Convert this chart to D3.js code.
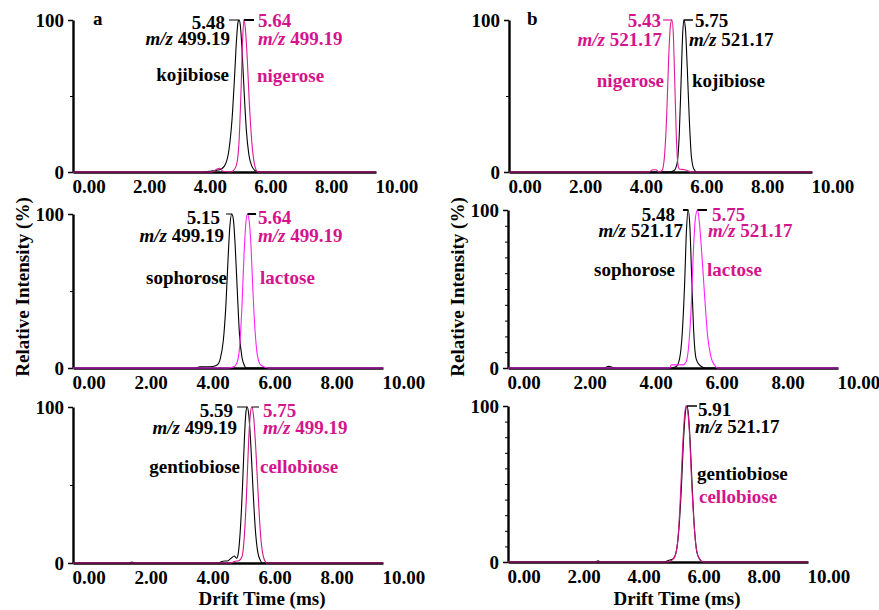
<!DOCTYPE html>
<html>
<head>
<meta charset="utf-8">
<script src="https://cdn.jsdelivr.net/npm/d3@7"></script>
<style>
  body { margin: 0; background: #fff; }
  svg text { font-family: "Liberation Serif", "Times New Roman", Times, serif; font-weight: bold; }
</style>
</head>
<body>
<div id="chart"></div>
<script>
// drift time ticks (ms) and intensity ticks (%)
var xTicks = [0, 2, 4, 6, 8, 10];
var yTicks = [0, 100];

// traces: [drift time (ms), relative intensity (%)]
var kojibiose499 = [[0,0],[4.3,0],[4.5,0.5],[4.7,1],[4.9,2],[5.05,6],[5.15,15],[5.25,35],[5.33,62],[5.4,88],[5.45,99],[5.48,100],[5.52,97],[5.58,80],[5.65,52],[5.72,28],[5.8,12],[5.9,4],[6.0,1],[6.1,0],[10,0]];
var nigerose499 = [[0,0],[4.6,0],[4.75,2],[4.85,2.5],[4.95,0.5],[5.2,0],[5.3,1],[5.4,5],[5.48,20],[5.54,50],[5.6,88],[5.64,100],[5.68,96],[5.75,75],[5.82,45],[5.9,20],[5.98,6],[6.05,1],[6.1,0],[10,0]];

var nigerose521 = [[0,0],[4.6,0],[4.75,1.5],[4.85,1.5],[4.95,0],[5.05,1],[5.12,8],[5.2,35],[5.27,75],[5.33,97],[5.38,100],[5.42,92],[5.47,60],[5.52,25],[5.57,6],[5.62,2],[5.8,1.5],[5.95,0.5],[6.0,0],[10,0]];
var kojibiose521 = [[0,0],[5.3,0],[5.45,1],[5.55,6],[5.62,25],[5.68,60],[5.73,90],[5.77,100],[5.82,95],[5.88,70],[5.95,35],[6.02,10],[6.1,2],[6.2,0],[10,0]];

var sophorose499 = [[0,0],[3.9,0],[4.1,0.7],[4.5,1],[4.65,2],[4.75,6],[4.85,18],[4.93,40],[5.0,70],[5.06,92],[5.12,100],[5.17,97],[5.23,80],[5.3,50],[5.37,22],[5.45,7],[5.52,2],[5.6,0],[10,0]];
var lactose499 = [[0,0],[5.0,0],[5.2,1],[5.3,4],[5.38,15],[5.45,40],[5.52,75],[5.58,95],[5.63,100],[5.68,96],[5.74,80],[5.8,52],[5.87,25],[5.95,8],[6.05,2],[6.2,0.5],[6.3,0],[10,0]];

var sophorose521 = [[0,0],[2.9,0],[3.05,1],[3.15,0.5],[3.3,0],[4.9,0],[5.1,1],[5.2,6],[5.28,22],[5.35,52],[5.41,88],[5.46,100],[5.51,90],[5.57,55],[5.63,22],[5.7,6],[5.8,2],[5.9,0.5],[6.0,0],[10,0]];
var lactose521 = [[0,0],[4.9,0],[4.95,2],[5.3,2],[5.4,4],[5.48,15],[5.55,38],[5.62,75],[5.68,95],[5.74,100],[5.8,92],[5.88,70],[5.96,45],[6.05,20],[6.15,7],[6.25,2],[6.35,0],[10,0]];

var gentiobiose499 = [[0,0],[1.8,0],[1.9,0.6],[2.0,0],[4.7,0],[4.8,1],[5.0,1.5],[5.1,3],[5.2,4.5],[5.28,3],[5.33,6],[5.4,22],[5.47,50],[5.53,80],[5.58,97],[5.62,100],[5.67,95],[5.73,78],[5.8,50],[5.88,22],[5.96,7],[6.05,1.5],[6.1,0],[10,0]];
var cellobiose499 = [[0,0],[5.1,0],[5.2,1],[5.35,1.5],[5.45,4],[5.53,18],[5.6,45],[5.67,80],[5.73,97],[5.77,100],[5.82,95],[5.9,72],[5.97,45],[6.05,18],[6.13,5],[6.2,1],[6.25,0],[10,0]];

var gentiobiose521 = [[0,0],[2.9,0],[3.0,0.7],[3.1,0],[5.2,0],[5.35,1],[5.5,2],[5.6,6],[5.7,22],[5.78,48],[5.85,78],[5.92,97],[5.96,100],[6.0,97],[6.07,78],[6.14,48],[6.22,20],[6.3,6],[6.4,1.5],[6.5,0],[10,0]];
var cellobiose521 = [[0,0],[5.3,0],[5.45,1],[5.55,3],[5.65,12],[5.73,35],[5.8,65],[5.87,90],[5.93,100],[5.98,98],[6.05,82],[6.12,52],[6.2,25],[6.28,8],[6.38,2],[6.5,0],[10,0]];

var black = "#000";
var pinkText = "#d4148c";

var panels = [
  { id: "a", box: [73, 376, 20, 172], minor: [50],
    traces: [{ d: kojibiose499, c: black }, { d: nigerose499, c: "#e0199a" }],
    notes: [
      { s: "a", x: 93, y: 25, a: "start", c: black },
      { s: "5.48", x: 225, y: 29, a: "end", c: black },
      { mz: "499.19", x: 230, y: 45, a: "end", c: black },
      { s: "kojibiose", x: 229, y: 81, a: "end", c: black },
      { s: "5.64", x: 258, y: 27, a: "start", c: pinkText },
      { mz: "499.19", x: 258, y: 45, a: "start", c: pinkText },
      { s: "nigerose", x: 257, y: 82, a: "start", c: pinkText }
    ],
    leaders: [{ x: 229, t: 5.48, c: black, w: 1 }, { x: 254, t: 5.64, c: black, w: 2 }] },
  { id: "b", box: [509, 812, 20, 172], minor: [50],
    traces: [{ d: kojibiose521, c: black }, { d: nigerose521, c: "#e0199a" }],
    notes: [
      { s: "b", x: 527, y: 25, a: "start", c: black },
      { s: "5.43", x: 661, y: 27, a: "end", c: pinkText },
      { mz: "521.17", x: 662, y: 46, a: "end", c: pinkText },
      { s: "nigerose", x: 664, y: 87, a: "end", c: pinkText },
      { s: "5.75", x: 695, y: 27, a: "start", c: black },
      { mz: "521.17", x: 689, y: 46, a: "start", c: black },
      { s: "kojibiose", x: 692, y: 87, a: "start", c: black }
    ],
    leaders: [{ x: 663, t: 5.38, c: "#e0199a", w: 1.2 }, { x: 693, t: 5.77, c: black, w: 1.5 }] },
  { id: "c", box: [73, 383, 214, 368], minor: [50],
    traces: [{ d: sophorose499, c: black }, { d: lactose499, c: "#ff22ff" }],
    notes: [
      { s: "5.15", x: 220, y: 224, a: "end", c: black },
      { mz: "499.19", x: 224, y: 242, a: "end", c: black },
      { s: "sophorose", x: 227, y: 284, a: "end", c: black },
      { s: "5.64", x: 258, y: 224, a: "start", c: pinkText },
      { mz: "499.19", x: 258, y: 242, a: "start", c: pinkText },
      { s: "lactose", x: 260, y: 284, a: "start", c: pinkText }
    ],
    leaders: [{ x: 226, t: 5.12, c: black, w: 1 }, { x: 256, t: 5.63, c: black, w: 2 }] },
  { id: "d", box: [508, 838, 210, 368], minor: [10, 20, 30, 40, 50, 60, 70, 80, 90],
    traces: [{ d: sophorose521, c: black }, { d: lactose521, c: "#ff22ff" }],
    notes: [
      { s: "5.48", x: 675, y: 221, a: "end", c: black },
      { mz: "521.17", x: 683, y: 237, a: "end", c: black },
      { s: "sophorose", x: 675, y: 276, a: "end", c: black },
      { s: "5.75", x: 712, y: 221, a: "start", c: pinkText },
      { mz: "521.17", x: 708, y: 237, a: "start", c: pinkText },
      { s: "lactose", x: 707, y: 276, a: "start", c: pinkText }
    ],
    leaders: [{ x: 683, t: 5.46, c: black, w: 2 }, { x: 707, t: 5.74, c: black, w: 2 }] },
  { id: "e", box: [73, 383, 407, 563], minor: [50],
    traces: [{ d: gentiobiose499, c: black }, { d: cellobiose499, c: "#d4148c" }],
    notes: [
      { s: "5.59", x: 233, y: 417, a: "end", c: black },
      { mz: "499.19", x: 237, y: 434, a: "end", c: black },
      { s: "gentiobiose", x: 240, y: 473, a: "end", c: black },
      { s: "5.75", x: 263, y: 417, a: "start", c: pinkText },
      { mz: "499.19", x: 263, y: 434, a: "start", c: pinkText },
      { s: "cellobiose", x: 260, y: 473, a: "start", c: pinkText }
    ],
    leaders: [{ x: 237, t: 5.62, c: black, w: 1 }, { x: 259, t: 5.77, c: black, w: 1 }] },
  { id: "f", box: [508, 808, 406, 562], minor: [10, 20, 30, 40, 50, 60, 70, 80, 90],
    traces: [{ d: gentiobiose521, c: black }, { d: cellobiose521, c: "#d4148c" }],
    notes: [
      { s: "5.91", x: 698, y: 416, a: "start", c: black },
      { mz: "521.17", x: 695, y: 433, a: "start", c: black },
      { s: "gentiobiose", x: 697, y: 480, a: "start", c: black },
      { s: "cellobiose", x: 699, y: 503, a: "start", c: pinkText }
    ],
    leaders: [{ x: 697, t: 5.96, c: black, w: 1.5 }] }
];

var W = 879, H = 610, FS = 19;

var svg = d3.select("#chart").append("svg")
    .attr("width", W)
    .attr("height", H);

panels.forEach(function(p) {
  var g = svg.append("g").attr("class", "panel-" + p.id);

  var x = d3.scaleLinear().domain([0, 10]).range([p.box[0], p.box[1]]);
  var y = d3.scaleLinear().domain([0, 100]).range([p.box[3], p.box[2]]);

  // x axis: labels hang off the tick, left aligned
  var xa = g.append("g")
      .attr("transform", "translate(0," + p.box[3] + ")")
      .call(d3.axisBottom(x).tickValues(xTicks).tickSize(0).tickSizeOuter(0).tickFormat(d3.format(".2f")));
  xa.select(".domain").attr("stroke-width", 2.4);
  xa.selectAll("text")
      .attr("text-anchor", "start")
      .attr("x", -1)
      .attr("y", 21).attr("dy", 0)
      .attr("font-size", FS)
      .attr("fill", "#000");

  // minor y ticks
  g.append("g")
      .attr("transform", "translate(" + p.box[0] + ",0)")
      .call(d3.axisLeft(y).tickValues(p.minor).tickSize(3).tickFormat(""))
      .select(".domain").remove();

  var ya = g.append("g")
      .attr("transform", "translate(" + p.box[0] + ",0)")
      .call(d3.axisLeft(y).tickValues(yTicks).tickSize(5).tickSizeOuter(0).tickPadding(4));
  ya.select(".domain").attr("stroke-width", 2.4);
  ya.selectAll(".tick line").attr("stroke-width", 1.5);
  ya.selectAll("text")
      .attr("font-size", FS)
      .attr("dy", "0.33em")
      .attr("fill", "#000");

  var line = d3.line()
      .x(function(d) { return x(d[0]); })
      .y(function(d) { return y(d[1]); })
      .curve(d3.curveMonotoneX);

  p.traces.forEach(function(tr) {
    g.append("path")
        .datum(tr.d)
        .attr("d", line)
        .attr("fill", "none")
        .attr("stroke", tr.c)
        .attr("stroke-width", 1.1);
  });

  p.leaders.forEach(function(l) {
    g.append("line")
        .attr("x1", l.x).attr("x2", x(l.t))
        .attr("y1", p.box[2]).attr("y2", p.box[2])
        .attr("stroke", l.c)
        .attr("stroke-width", l.w);
  });

  p.notes.forEach(function(n) {
    var t = g.append("text")
        .attr("x", n.x).attr("y", n.y)
        .attr("text-anchor", n.a)
        .attr("font-size", FS)
        .attr("fill", n.c);
    if (n.mz) {
      t.append("tspan").attr("font-style", "italic").text("m/z");
      t.append("tspan").text(" " + n.mz);
    } else {
      t.text(n.s);
    }
  });
});

// axis titles
[22, 457].forEach(function(cx) {
  svg.append("text")
      .attr("transform", "translate(" + cx + ",287) rotate(-90)")
      .attr("text-anchor", "middle")
      .attr("dy", "0.35em")
      .attr("font-size", FS)
      .text("Relative Intensity (%)");
});
[262, 677].forEach(function(cx) {
  svg.append("text")
      .attr("x", cx).attr("y", 605)
      .attr("text-anchor", "middle")
      .attr("font-size", FS)
      .text("Drift Time (ms)");
});
</script>
</body>
</html>
